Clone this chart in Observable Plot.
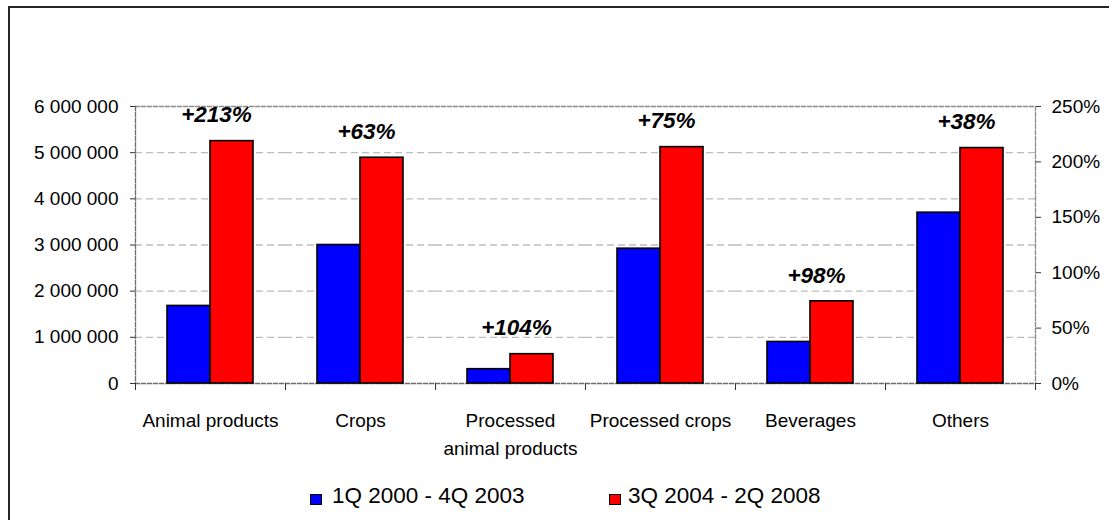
<!DOCTYPE html>
<html>
<head>
<meta charset="utf-8">
<script src="https://cdn.jsdelivr.net/npm/d3@7"></script>
<script src="https://cdn.jsdelivr.net/npm/@observablehq/plot@0.6"></script>
<style>
  html, body { margin: 0; padding: 0; background: #fff; }
  body { position: relative; width: 1109px; height: 520px; overflow: hidden; }
  #chart { position: absolute; left: 0; top: 0; }
  #outline { position: absolute; left: 8px; top: 6px; width: 1200px; height: 600px; border-top: 2px solid #262626; border-left: 2px solid #262626; pointer-events: none; }
  .key { position: absolute; width: 12px; height: 11px; border: 1px solid #000; box-sizing: border-box; }
  .key-label { position: absolute; font-family: "Liberation Sans", Arial, sans-serif; font-size: 22.5px; line-height: 22.5px; color: #000; white-space: nowrap; }
</style>
</head>
<body>
<div id="chart"></div>
<div id="legend"></div>
<div id="outline"></div>
<script>
// Categories and the two periods compared
const categories = ["Animal products", "Crops", "Processed animal products", "Processed crops", "Beverages", "Others"];
const categoryLines = ["Animal products", "Crops", "Processed\nanimal products", "Processed crops", "Beverages", "Others"];
const seriesNames = ["1Q 2000 - 4Q 2003", "3Q 2004 - 2Q 2008"];
const seriesColors = ["#0000ff", "#ff0000"];

// Values per period
const earlyValues = [1680000, 3000000, 310000, 2920000, 900000, 3700000];
const lateValues = [5250000, 4890000, 635000, 5120000, 1780000, 5100000];
const growthLabels = ["+213%", "+63%", "+104%", "+75%", "+98%", "+38%"];

// Axis ticks
const leftTicks = [0, 1000000, 2000000, 3000000, 4000000, 5000000, 6000000];
const rightTicks = [0, 50, 100, 150, 200, 250];
const yMax = 6000000;
const rightMax = 250;

const rows = categories.flatMap((c, i) => [
  {category: c, series: seriesNames[0], value: earlyValues[i]},
  {category: c, series: seriesNames[1], value: lateValues[i]}
]);
const labelRows = categories.map((c, i) => ({category: c, value: lateValues[i], label: growthLabels[i]}));

const spaced = d3.formatLocale({decimal: ".", thousands: " ", grouping: [3], currency: ["", ""]}).format(",");

const W = 1100, H = 470;
const mTop = 106, mBottom = H - 383, mLeft = 133, mRight = W - 1036;
const innerH = H - mTop - mBottom;
const lastCat = categories[categories.length - 1];
const font = "'Liberation Sans', Arial, sans-serif";

const chart = Plot.plot({
  width: W,
  height: H,
  marginTop: mTop,
  marginBottom: mBottom,
  marginLeft: mLeft,
  marginRight: mRight,
  style: {fontFamily: font, fontSize: "19px", color: "#000", background: "#fff"},
  fx: {domain: categories, padding: 0},
  x: {domain: seriesNames, paddingInner: 0, paddingOuter: 0.71, axis: null},
  y: {domain: [0, yMax]},
  color: {domain: seriesNames, range: seriesColors},
  marks: [
    Plot.gridY(leftTicks.slice(1, -1), {stroke: "#bdbdbd", strokeOpacity: 1, strokeWidth: 1.3, strokeDasharray: "7,4"}),
    Plot.frame({anchor: "top", stroke: "#8c8c8c", strokeWidth: 1.3, strokeDasharray: "4,2"}),
    Plot.frame({anchor: "bottom", stroke: "#6e6e6e", strokeWidth: 1.3, strokeDasharray: "4,2"}),
    Plot.frame({anchor: "left", stroke: "#6e6e6e", strokeWidth: 1.3, strokeDasharray: "4,2", fx: () => categories[0]}),
    Plot.frame({anchor: "right", stroke: "#8c8c8c", strokeWidth: 1.3, strokeDasharray: "4,2", fx: () => lastCat}),
    // category boundary tick marks under the baseline
    Plot.frame({anchor: "left", stroke: "#333", insetTop: innerH, insetBottom: -6}),
    Plot.frame({anchor: "right", stroke: "#333", insetTop: innerH, insetBottom: -6, fx: () => lastCat}),
    Plot.barY(rows, {fx: "category", x: "series", y: "value", fill: "series", stroke: "#000", strokeWidth: 1.6}),
    Plot.text(labelRows, {
      fx: "category", y: "value", text: "label", dx: 6, dy: -26,
      fontSize: 22.5, fontWeight: "bold", fontStyle: "italic", lineAnchor: "middle", fill: "#000"
    }),
    Plot.axisY(leftTicks, {anchor: "left", tickFormat: spaced, tickSize: 5, tickPadding: 12, label: null, stroke: "#333", fontSize: 19}),
    Plot.axisY(rightTicks.map(p => p / rightMax * yMax), {
      anchor: "right", tickFormat: d => Math.round(d / yMax * rightMax) + "%",
      tickSize: 5, tickPadding: 11, label: null, stroke: "#333", fontSize: 19
    }),
    Plot.axisFx({
      anchor: "bottom", tickSize: 0, tickPadding: 23, label: null, fontSize: 19, lineHeight: 1.5,
      tickFormat: c => categoryLines[categories.indexOf(c)]
    })
  ]
});
document.getElementById("chart").appendChild(chart);

// Legend below the chart
const legend = document.getElementById("legend");
const keyLefts = [310, 609];
const labelLefts = [332, 628];
seriesNames.forEach((name, i) => {
  const key = document.createElement("div");
  key.className = "key";
  key.style.left = keyLefts[i] + "px";
  key.style.top = "494px";
  key.style.background = seriesColors[i];
  legend.appendChild(key);
  const label = document.createElement("div");
  label.className = "key-label";
  label.style.left = labelLefts[i] + "px";
  label.style.top = "485px";
  label.textContent = name;
  legend.appendChild(label);
});
</script>
</body>
</html>
